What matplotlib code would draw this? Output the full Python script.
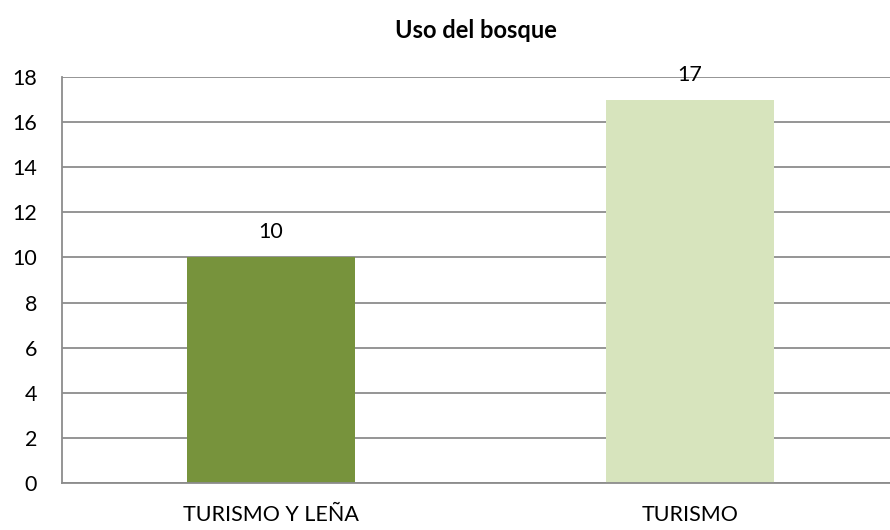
import matplotlib.pyplot as plt

categories = ["TURISMO Y LEÑA", "TURISMO"]
values = [10, 17]
colors = ["#77933C", "#D7E4BD"]
yticks = [0, 2, 4, 6, 8, 10, 12, 14, 16, 18]

plt.rcParams['font.family'] = ['Lato', 'DejaVu Sans']

fig = plt.figure(figsize=(8.9, 5.3), dpi=100)
ax = fig.add_axes([62/890, 47/530, 828/890, 406/530])

x = range(len(categories))
ax.bar(x, values, width=0.40, color=colors, zorder=2)

for xi, v in zip(x, values):
    ax.annotate(str(v), (xi, v), xytext=(0, 18), textcoords="offset points",
                ha="center", va="center", fontsize=15.5, color="black", zorder=3)

ax.set_xlim(-0.499, 1.477)
ax.set_ylim(0, 18)
ax.set_yticks(yticks)
ax.set_xticks(list(x))
ax.set_xticklabels(categories)
ax.tick_params(axis="both", length=0, labelsize=15.5)
ax.tick_params(axis="y", pad=18)
ax.tick_params(axis="x", pad=16)
ax.yaxis.grid(True, color="#8C8C8C", linewidth=1.3, zorder=0)
for s in ["top", "right"]:
    ax.spines[s].set_visible(False)
ax.spines["left"].set_color("#8C8C8C")
ax.spines["bottom"].set_color("#8C8C8C")
ax.spines["left"].set_linewidth(1.3)
ax.spines["bottom"].set_linewidth(1.3)

fig.text(476/890, 1 - 30/530, "Uso del bosque", ha="center", va="center",
         fontsize=17, fontweight="bold")

fig.savefig("out.png", dpi=100)
